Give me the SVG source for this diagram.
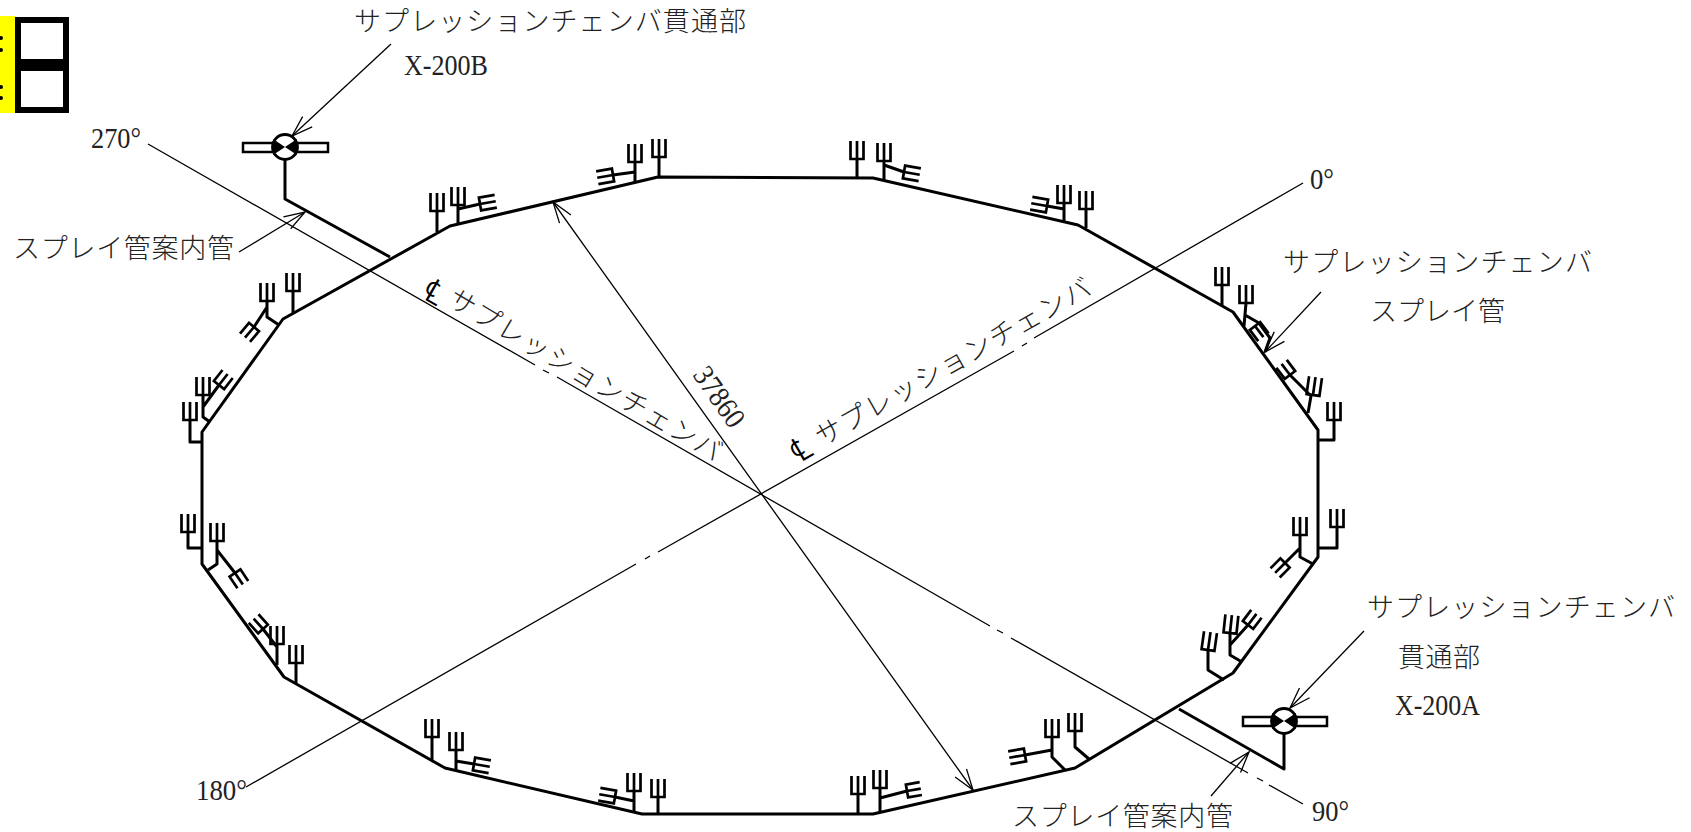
<svg xmlns="http://www.w3.org/2000/svg" width="1691" height="832" viewBox="0 0 1691 832">
<style>
.p{fill:none;stroke:#000;stroke-width:3;stroke-linejoin:round}
.h{fill:none;stroke:#000;stroke-width:2.7;stroke-linejoin:miter}
.t{fill:none;stroke:#000;stroke-width:1.3}
.a{fill:none;stroke:#000;stroke-width:1.3;marker-end:url(#arr)}
text{font-family:"Liberation Serif","Noto Sans CJK JP",serif;font-size:27px;font-weight:300;fill:#222}
.d{font-size:30px}
.c{font-family:"DejaVu Sans","Noto Sans CJK JP",sans-serif;font-size:34px;fill:#000}
</style>
<defs>
<path id="f" class="h" d="M0 0V-18M-6.5 -18V0H6.5V-18"/>
<path id="s" class="h" d="M0 0V-14M-6.5 -14V0H6.5V-14"/>
<path id="l" class="h" d="M0 0V-16M-6.5 -16V0H6.5V-16"/>
<marker id="arr" markerUnits="userSpaceOnUse" markerWidth="24" markerHeight="16" refX="22" refY="8" orient="auto-start-reverse" viewBox="0 0 24 16"><path d="M1 1L22 8L1 15" fill="none" stroke="#000" stroke-width="1.3"/></marker>
</defs>
<g id="legend">
<rect x="0" y="16" width="16" height="97" fill="#ff0"/>
<rect x="15" y="17" width="54" height="96" fill="#000"/>
<rect x="21" y="23" width="42" height="36" fill="#fff"/>
<rect x="21" y="71" width="42" height="36" fill="#fff"/>
<circle cx="1" cy="38" r="2"/><circle cx="1" cy="50" r="2"/><circle cx="1" cy="87" r="2"/><circle cx="1" cy="98" r="2"/>
</g>
<g id="connectors">
<path class="t" d="M148 144L535 365M543 370L549 373M557 377L990 626M997 630L1003 633M1011 638L1248 773M1257 778L1263 781M1269 785L1303 804"/>
<path class="t" d="M1303 183L1034 338M1027 343L1022 346M1014 351L658 552M650 556L645 559M636 564L246 787"/>
<path class="t" d="M553 202L973 790" marker-end="url(#arr)" marker-start="url(#arr)"/>
<path class="a" d="M391 44L292 136"/>
<path class="a" d="M239 252L305 212"/>
<path class="a" d="M1321 292L1265 352"/>
<path class="a" d="M1364 631L1290 708"/>
<path class="a" d="M1211 796L1249 752"/>
</g>
<g id="ring"><path class="p" d="M658 177L873 178L1078 225L1233 312L1318 430V557L1233 673L1075 768L873 814H642L445 768L284 677L202 564V432L283 319L450 226Z"/></g>
<g id="guide-b"><path class="p" d="M285 160V199L390 257"/></g>
<g id="guide-a"><path class="p" d="M1284 733V769L1179 709"/></g>
<g id="valve-b">
<rect x="243" y="143" width="85" height="9" fill="#fff" stroke="#000" stroke-width="2.5"/>
<circle cx="285" cy="147" r="12.5" fill="#fff" stroke="#000" stroke-width="2.8"/>
<path d="M285 147L273 139V155ZM285 147L297 139V155Z"/>
</g>
<g id="valve-a">
<rect x="1243" y="717" width="84" height="9" fill="#fff" stroke="#000" stroke-width="2.5"/>
<circle cx="1284" cy="721" r="12.5" fill="#fff" stroke="#000" stroke-width="2.8"/>
<path d="M1284 721L1272 713V729ZM1284 721L1296 713V729Z"/>
</g>
<g id="fork-1"><path class="p" d="M293 313V291"/><use href="#f" transform="translate(293 291)"/></g>
<g id="fork-2"><path class="p" d="M279 325L267 317V301M267 307L254 327"/><use href="#f" transform="translate(267 301)"/><use href="#s" transform="translate(254 327) rotate(-140)"/></g>
<g id="fork-3"><path class="p" d="M210 422L203 417V395M203 407L219 385"/><use href="#f" transform="translate(203 395)"/><use href="#s" transform="translate(219 385) rotate(38)"/></g>
<g id="fork-4"><path class="p" d="M190 420V442H202"/><use href="#f" transform="translate(190 420)"/></g>
<g id="fork-5"><path class="p" d="M188 532V548H202"/><use href="#f" transform="translate(188 532)"/></g>
<g id="fork-6"><path class="p" d="M208 570L217 564V541M217 550L235 573"/><use href="#f" transform="translate(217 541)"/><use href="#s" transform="translate(235 573) rotate(146)"/></g>
<g id="fork-7"><path class="p" d="M277 665V644M277 647L263 629"/><use href="#f" transform="translate(277 644)"/><use href="#s" transform="translate(263 629) rotate(-42)"/></g>
<g id="fork-8"><path class="p" d="M296 683V663"/><use href="#f" transform="translate(296 663)"/></g>
<g id="fork-9"><path class="p" d="M432 761V737"/><use href="#f" transform="translate(432 737)"/></g>
<g id="fork-10"><path class="p" d="M456 771V750M456 761L474 764"/><use href="#f" transform="translate(456 750)"/><use href="#l" transform="translate(474 764) rotate(100)"/></g>
<g id="fork-11"><path class="p" d="M634 813V791M634 801L615 797"/><use href="#f" transform="translate(634 791)"/><use href="#l" transform="translate(615 797) rotate(-80)"/></g>
<g id="fork-12"><path class="p" d="M658 814V797"/><use href="#f" transform="translate(658 797)"/></g>
<g id="fork-13"><path class="p" d="M858 814V794"/><use href="#f" transform="translate(858 794)"/></g>
<g id="fork-14"><path class="p" d="M880 812V788M880 798L907 791"/><use href="#f" transform="translate(880 788)"/><use href="#s" transform="translate(907 791) rotate(80)"/></g>
<g id="fork-15"><path class="p" d="M1065 770L1052 757V737M1052 750L1025 755"/><use href="#f" transform="translate(1052 737)"/><use href="#l" transform="translate(1025 755) rotate(-100)"/></g>
<g id="fork-16"><path class="p" d="M1089 759L1075 747V731"/><use href="#f" transform="translate(1075 731)"/></g>
<g id="fork-17"><path class="p" d="M1224 680L1208 670V650"/><use href="#f" transform="translate(1208 650) rotate(8)"/></g>
<g id="fork-18"><path class="p" d="M1242 662L1230 655V633M1230 645L1248 625"/><use href="#f" transform="translate(1230 633) rotate(6)"/><use href="#s" transform="translate(1248 625) rotate(37)"/></g>
<g id="fork-19"><path class="p" d="M1313 564L1300 557V535M1300 548L1285 563"/><use href="#f" transform="translate(1300 535)"/><use href="#s" transform="translate(1285 563) rotate(-135)"/></g>
<g id="fork-20"><path class="p" d="M1318 548H1337V527"/><use href="#f" transform="translate(1337 527)"/></g>
<g id="fork-21"><path class="p" d="M1222 305V285"/><use href="#f" transform="translate(1222 285)"/></g>
<g id="fork-22"><path class="p" d="M1244 326L1246 303M1245 315L1259 323L1270 338L1265 352"/><use href="#f" transform="translate(1246 303)"/><use href="#s" transform="translate(1255 326) rotate(143)"/></g>
<g id="fork-23"><path class="p" d="M1308 413L1311 396L1290 375"/><use href="#f" transform="translate(1313 395) rotate(8)"/><use href="#s" transform="translate(1290 375) rotate(-37)"/></g>
<g id="fork-24"><path class="p" d="M1318 440H1334V420"/><use href="#f" transform="translate(1334 420)"/></g>
<g id="fork-25"><path class="p" d="M437 232V211"/><use href="#f" transform="translate(437 211)"/></g>
<g id="fork-26"><path class="p" d="M458 225V205M458 209L480 204"/><use href="#f" transform="translate(458 205)"/><use href="#l" transform="translate(480 204) rotate(80)"/></g>
<g id="fork-27"><path class="p" d="M635 182V162M635 172L613 175"/><use href="#f" transform="translate(635 162)"/><use href="#l" transform="translate(613 175) rotate(-100)"/></g>
<g id="fork-28"><path class="p" d="M659 177V157"/><use href="#f" transform="translate(659 157)"/></g>
<g id="fork-29"><path class="p" d="M857 178V159"/><use href="#f" transform="translate(857 159)"/></g>
<g id="fork-30"><path class="p" d="M884 180V161M884 165L904 172"/><use href="#f" transform="translate(884 161)"/><use href="#l" transform="translate(904 172) rotate(100)"/></g>
<g id="fork-31"><path class="p" d="M1064 222V203M1064 209L1047 206"/><use href="#f" transform="translate(1064 203)"/><use href="#l" transform="translate(1047 206) rotate(-80)"/></g>
<g id="fork-32"><path class="p" d="M1086 228V209"/><use href="#f" transform="translate(1086 209)"/></g>
<g id="labels">
<text x="354" y="31" textLength="392">サプレッションチェンバ貫通部</text>
<text class="d" x="404" y="75" textLength="84" lengthAdjust="spacingAndGlyphs">X-200B</text>
<text class="d" x="91" y="148" textLength="50" lengthAdjust="spacingAndGlyphs">270°</text>
<text x="13" y="258" textLength="221">スプレイ管案内管</text>
<text class="d" x="1310" y="189" textLength="24" lengthAdjust="spacingAndGlyphs">0°</text>
<text x="1283" y="272" textLength="309">サプレッションチェンバ</text>
<text x="1370" y="321" textLength="135">スプレイ管</text>
<text x="1367" y="617" textLength="308">サプレッションチェンバ</text>
<text x="1398" y="667" textLength="82">貫通部</text>
<text class="d" x="1395" y="715" textLength="85" lengthAdjust="spacingAndGlyphs">X-200A</text>
<text x="1012" y="826" textLength="221">スプレイ管案内管</text>
<text class="d" x="1312" y="821" textLength="37" lengthAdjust="spacingAndGlyphs">90°</text>
<text class="d" x="196" y="800" textLength="51" lengthAdjust="spacingAndGlyphs">180°</text>
<text class="d" transform="translate(692 375) rotate(55)" textLength="67" lengthAdjust="spacingAndGlyphs">37860</text>
<text class="c" transform="translate(428 302) rotate(30)" text-anchor="middle">℄</text>
<text transform="translate(446 304) rotate(30.5)" textLength="312">サプレッションチェンバ</text>
<text class="c" transform="translate(806 459) rotate(-30)" text-anchor="middle">℄</text>
<text transform="translate(822 447) rotate(-29.5)" textLength="312">サプレッションチェンバ</text>
</g>
</svg>
